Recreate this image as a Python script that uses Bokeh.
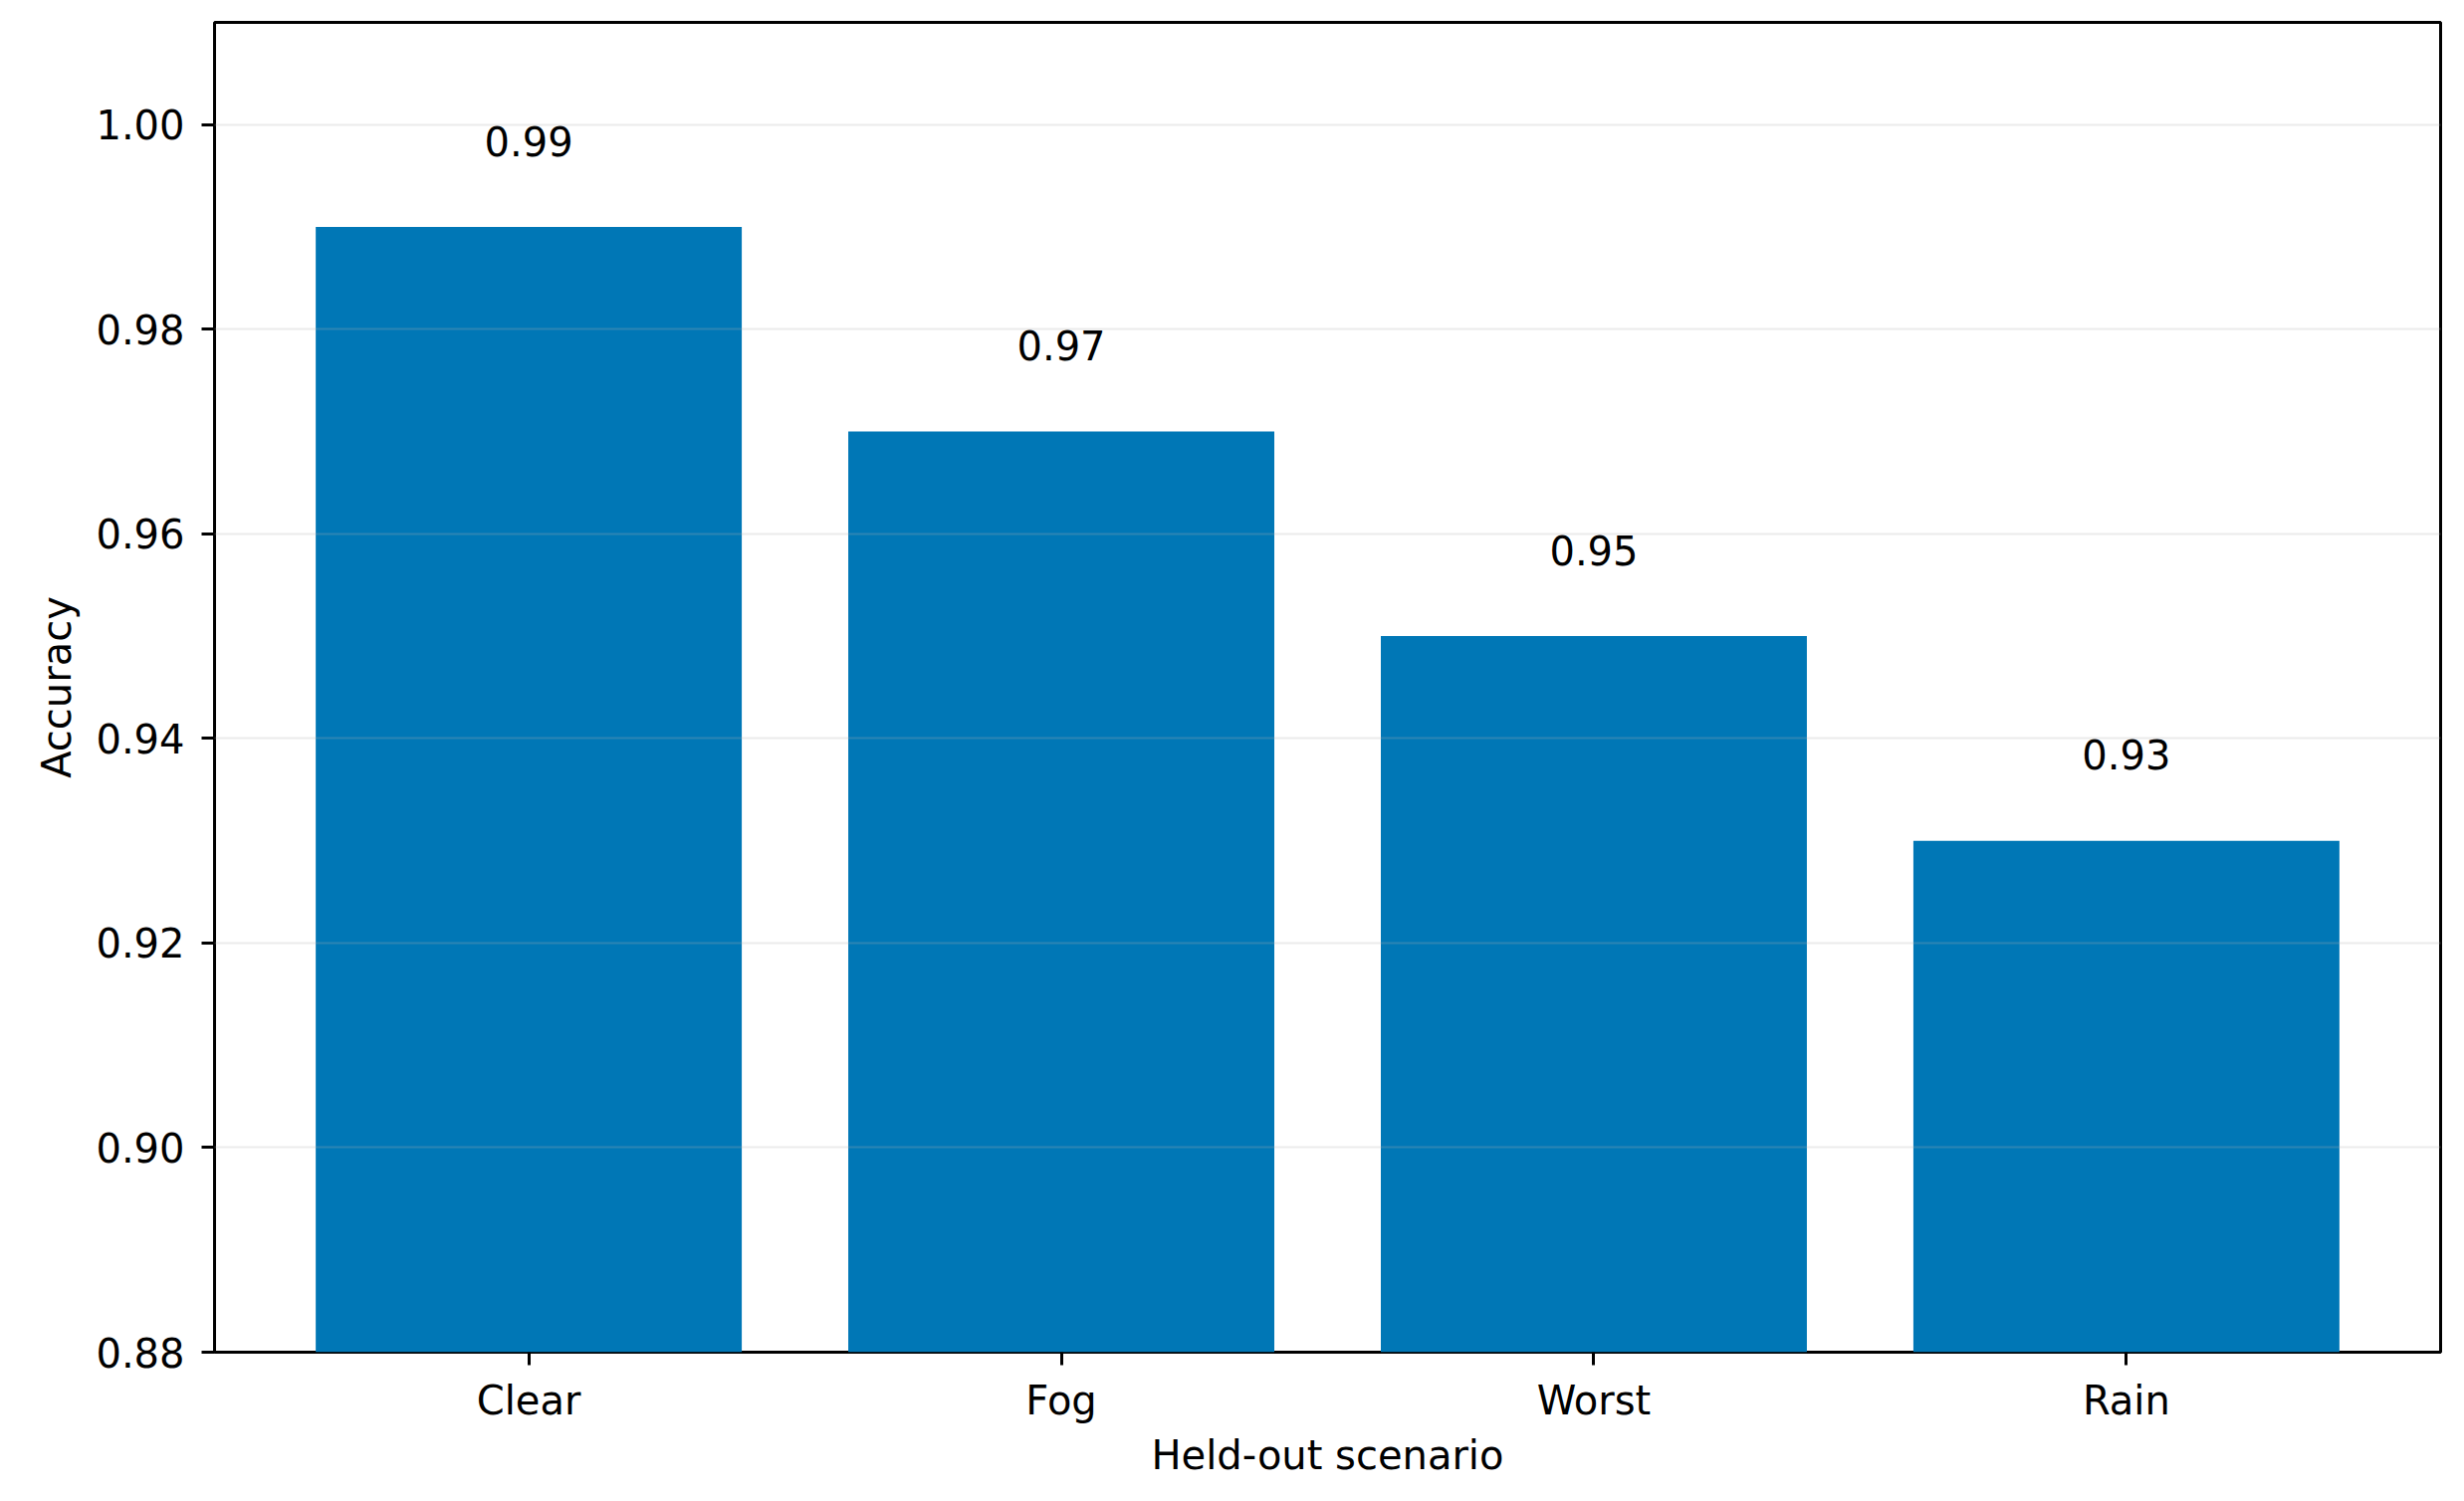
from bokeh.plotting import figure
from bokeh.models import Range1d, FixedTicker, ColumnDataSource, PrintfTickFormatter
from bokeh.core.properties import value
from bokeh.embed import file_html
from bokeh.resources import INLINE

scenarios = ["Clear", "Fog", "Worst", "Rain"]
accuracy = [0.99, 0.97, 0.95, 0.93]
y_ticks = [0.88, 0.90, 0.92, 0.94, 0.96, 0.98, 1.00]

FONT = "DejaVu Sans"
FS = "40px"
BAR = "#0077b6"

idx = list(range(len(scenarios)))
labels = ["%.2f" % v for v in accuracy]
label_y = [v + 0.0084 for v in accuracy]

src = ColumnDataSource(dict(x=idx, top=accuracy, lab=labels, ly=label_y))

p = figure(width=2459, height=1492, output_backend="svg", toolbar_location=None,
           x_range=Range1d(-0.59, 3.59), y_range=Range1d(0.88, 1.01),
           min_border_left=215, min_border_right=8, min_border_top=22, min_border_bottom=134)

p.vbar(x="x", top="top", bottom=0, width=0.8, source=src, fill_color=BAR, line_color=None)
p.text(x="x", y="ly", text="lab", source=src, text_align="center", text_baseline="alphabetic",
       text_font=value(FONT), text_font_size=FS, text_color="#000000")

p.outline_line_color = "#000000"
p.outline_line_width = 3
p.outline_line_alpha = 1.0

p.xgrid.visible = False
p.ygrid.ticker = FixedTicker(ticks=y_ticks)
p.ygrid.grid_line_color = "#b0b0b0"
p.ygrid.grid_line_alpha = 0.25
p.ygrid.grid_line_width = 2
p.ygrid.level = "overlay"

p.xaxis.ticker = FixedTicker(ticks=idx)
p.xaxis.major_label_overrides = {i: s for i, s in zip(idx, scenarios)}
p.yaxis.ticker = FixedTicker(ticks=y_ticks)
p.yaxis.formatter = PrintfTickFormatter(format="%.2f")

for ax in (p.xaxis, p.yaxis):
    ax.axis_line_color = None
    ax.major_tick_in = 0
    ax.major_tick_out = 13
    ax.major_tick_line_width = 3
    ax.major_tick_line_color = "#000000"
    ax.minor_tick_line_color = None
    ax.major_label_text_font = FONT
    ax.major_label_text_font_size = FS
    ax.major_label_text_color = "#000000"
    ax.axis_label_text_font = FONT
    ax.axis_label_text_font_size = FS
    ax.axis_label_text_font_style = "normal"
    ax.axis_label_text_color = "#000000"

p.xaxis.axis_label = "Held-out scenario"
p.yaxis.axis_label = "Accuracy"
p.xaxis.major_label_standoff = 12
p.yaxis.major_label_standoff = 17
p.xaxis.axis_label_standoff = 6
p.yaxis.axis_label_standoff = 13

open("out.html", "w").write(file_html(p, INLINE))
